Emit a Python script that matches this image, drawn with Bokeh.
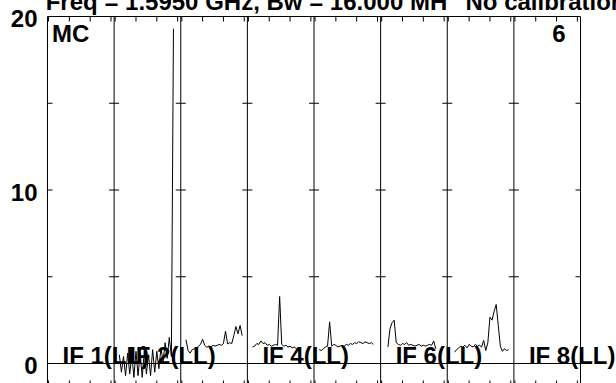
import math
from bokeh.plotting import figure
from bokeh.models import Range1d, Label
from bokeh.embed import file_html
from bokeh.resources import INLINE

# ---------------- data ----------------
n_if = 8
chans_per_if = 32
y_top = 20.0
y_labeled_ticks = [0, 10, 20]
y_tick_labels = ["0", "10", "20"]
y_small_ticks = [5, 10, 15]
chan_ticks = [1, 11, 21, 31]

title_main = "Freq = 1.5950 GHz, Bw = 16.000 MH"
title_note = "No calibration"
source_label = "MC"
baseline_label = "6"
if_label_numbers = [1, 2, 4, 6, 8]
if_label_texts = ["IF 1(LL)", "IF 2(LL)", "IF 4(LL)", "IF 6(LL)", "IF 8(LL)"]

if2_first_chan = 3
if2_amp = [0.5, -0.5, 0.4, -0.7, 0.6, -0.6, 0.5, -0.8, 0.7, -0.7,
           0.6, -0.8, 0.7, -0.6, 0.5, -0.7, 0.8, -0.5, 0.7, -0.3,
           0.9, 0.1, 1.2, 0.3, 1.5, 0.4, 19.3]
if3_first_chan = 3
if3_amp = [1.37, 0.75, 0.6, 0.8, 0.85, 0.8, 1.0, 1.1, 1.4, 1.05,
           0.94, 1.0, 0.95, 1.05, 1.0, 1.05, 1.1, 1.05, 1.15, 1.86,
           1.13, 1.2, 1.15, 1.61, 2.13, 1.71, 2.19, 1.61]
if4_first_chan = 3
if4_amp = [0.95, 1.0, 1.15, 1.1, 1.3, 1.15, 1.2, 1.05, 1.1, 1.0,
           1.05, 1.1, 1.05, 3.86, 1.1, 1.0, 1.05, 0.95, 1.0, 0.9,
           0.95, 0.85, 0.85]
if5_first_chan = 3
if5_amp = [0.8, 0.75, 0.85, 0.95, 1.0, 2.4, 1.0, 1.1, 1.05, 0.95,
           1.0, 1.05, 1.0, 1.1, 1.05, 1.15, 1.1, 1.2, 1.15, 1.25,
           1.2, 1.15, 1.25, 1.2, 1.15, 1.2, 1.1]
if6_first_chan = 4
if6_amp = [0.95, 2.0, 2.35, 2.5, 1.2, 1.1, 1.05, 1.15, 1.1, 1.2,
           1.05, 1.1, 1.05, 1.0, 1.05, 1.1, 1.0, 1.05, 1.0, 1.05,
           1.1, 1.05, 1.3, 0.85]
if7_first_chan = 4
if7_amp = [0.65, 0.8, 0.9, 1.0, 0.95, 1.05, 0.9, 1.1, 1.0, 0.95,
           1.1, 1.0, 1.05, 0.95, 1.33, 0.75, 1.2, 2.67, 2.5, 3.0,
           3.4, 2.2, 1.0, 0.7, 0.85, 0.75, 0.8]

spectra = {
    2: (if2_first_chan, if2_amp),
    3: (if3_first_chan, if3_amp),
    4: (if4_first_chan, if4_amp),
    5: (if5_first_chan, if5_amp),
    6: (if6_first_chan, if6_amp),
    7: (if7_first_chan, if7_amp),
}

# ---------------- layout ----------------
FONT = "Liberation Sans"
FS = "24px"
W, H = 608, 389
panel_left_px, panel_right_px = 39, 572      # canvas pixels of the panel box
panel_top_px, zero_px = 22, 369

x_lo = 0.5
x_hi = n_if * chans_per_if + 0.5
xpp = (x_hi - x_lo) / (panel_right_px - panel_left_px)   # data units per px
ypp = y_top / (zero_px - panel_top_px)
x_start = x_lo - panel_left_px * xpp
x_end = x_hi + (W - panel_right_px) * xpp
y_end = y_top + panel_top_px * ypp
y_start = y_top - (H - panel_top_px) * ypp

p = figure(width=W, height=H,
           x_range=Range1d(x_start, x_end), y_range=Range1d(y_start, y_end),
           output_backend="svg", toolbar_location=None,
           x_axis_location=None, y_axis_location=None,
           min_border_left=0, min_border_right=0,
           min_border_top=0, min_border_bottom=0,
           margin=(-6, 0, 0, 8))
p.background_fill_color = "white"
p.border_fill_color = "white"
p.outline_line_color = None
p.grid.visible = False

# spectra
xs, ys = [], []
for if_no, (first, amps) in spectra.items():
    base = (if_no - 1) * chans_per_if
    xs.append([base + first + i for i in range(len(amps))])
    ys.append(list(amps))
p.multi_line(xs=xs, ys=ys, line_color="black", line_width=1)

# box, dividers, zero line
boundaries = [k * chans_per_if + 0.5 for k in range(n_if + 1)]
p.segment(x0=boundaries, y0=[y_start] * len(boundaries),
          x1=boundaries, y1=[y_top] * len(boundaries),
          line_color="black", line_width=1)
p.segment(x0=[x_lo, x_lo], y0=[y_top, 0], x1=[x_hi, x_hi], y1=[y_top, 0],
          line_color="black", line_width=1)

# y ticks on both sides of every panel edge
ytx, yty, yta = [], [], []
for i, b in enumerate(boundaries):
    for t in y_small_ticks:
        if i > 0:
            ytx.append(b); yty.append(t); yta.append(math.pi)
        if i < n_if:
            ytx.append(b); yty.append(t); yta.append(0.0)
p.ray(x=ytx, y=yty, angle=yta, length=5, length_units="screen",
      line_color="black", line_width=1)

# channel ticks, top and bottom
ctx = [k * chans_per_if + c for k in range(n_if) for c in chan_ticks]
p.ray(x=ctx, y=[y_top] * len(ctx), angle=-math.pi / 2, length=5,
      length_units="screen", line_color="black", line_width=1)
p.ray(x=ctx, y=[y_start] * len(ctx), angle=math.pi / 2, length=3,
      length_units="screen", line_color="black", line_width=1)


def lab(x, y, text, xo=0, yo=0, align="left"):
    p.add_layout(Label(x=x, y=y, text=text, x_offset=xo, y_offset=yo,
                       text_align=align, text_baseline="middle",
                       text_font=FONT, text_font_style="bold",
                       text_font_size=FS, text_color="black"))


for v, t in zip(y_labeled_ticks, y_tick_labels):
    lab(x_lo, v, t, xo=-10, yo=-2, align="right")
lab(x_lo, y_top, title_main, xo=-1.8, yo=15)
lab(x_lo, y_top, title_note, xo=418, yo=15)
lab(x_lo, y_top, source_label, xo=4.5, yo=-16.5)
lab(x_hi, y_top, baseline_label, xo=-15, yo=-16.5, align="right")
for n, t in zip(if_label_numbers, if_label_texts):
    lab((n - 1) * chans_per_if + 0.5, 0, t, xo=15, yo=8.5)

open("out.html", "w").write(file_html(p, INLINE))
